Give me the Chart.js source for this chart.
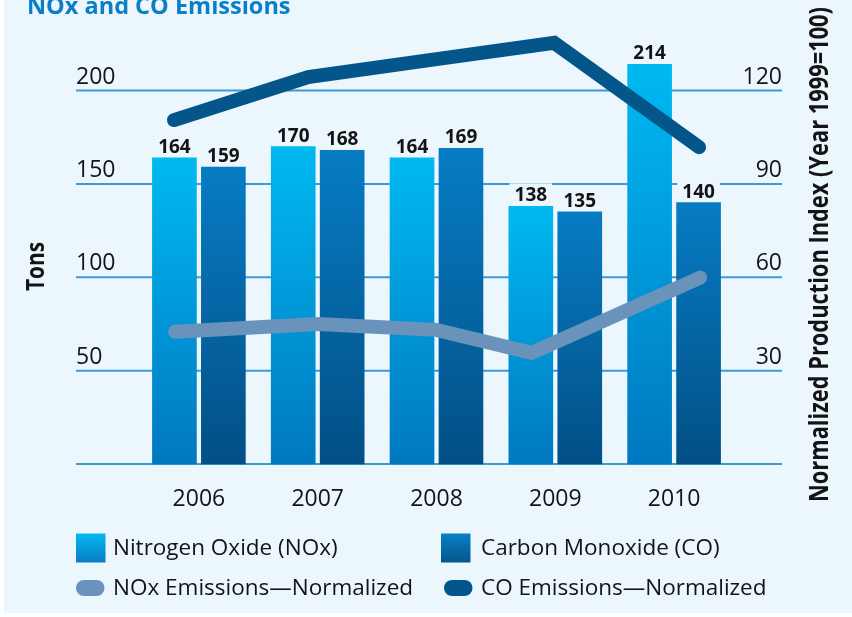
<!DOCTYPE html>
<html>
<head>
<meta charset="utf-8">
<title>NOx and CO Emissions</title>
<script src="https://cdn.jsdelivr.net/npm/chart.js@4.4.0/dist/chart.umd.min.js"></script>
<style>
  html, body { margin: 0; padding: 0; background: #fff; }
  canvas { display: block; }
</style>
</head>
<body>
<canvas id="chart" width="852" height="617" style="width:852px;height:617px"></canvas>
<script>
// values
const years = ['2006', '2007', '2008', '2009', '2010'];
const noxTons = [164, 170, 164, 138, 214];
const coTons = [159, 168, 169, 135, 140];
// normalized index lines (right axis); x is the slot position the point sits at
const noxNormX = [-0.2, 1.0, 2.0, 2.8, 4.22];
const noxNorm = [42.5, 45.0, 43.1, 35.7, 59.9];
const coNormX = [-0.21, 0.92, 2.0, 2.99, 4.21];
const coNorm = [110.5, 124.3, 130.1, 135.3, 101.8];
const tonTicks = [0, 50, 100, 150, 200];
const indexTicks = [0, 30, 60, 90, 120];

const panel = '#ecf6fd';
const gridColor = '#3d9ad6';
const ink = '#141414';
const sans = '"Open Sans", "Noto Sans", sans-serif';
const pairShift = 0.206; // half the distance between the two bars of a year, in year slots

function barFill(top, bottom) {
  return ctx => {
    const chart = ctx.chart;
    if (!chart.chartArea || ctx.type !== 'data') return top;
    const y = chart.scales.y;
    const g = chart.ctx.createLinearGradient(0, y.getPixelForValue(ctx.parsed.y), 0, y.getPixelForValue(0));
    g.addColorStop(0, top);
    g.addColorStop(1, bottom);
    return g;
  };
}

// rotated bold text squeezed to a given length
function sideTitle(c, text, x, y, size, len) {
  c.save();
  c.font = 'bold ' + size + 'px ' + sans;
  const w = c.measureText(text).width;
  c.translate(x, y);
  c.rotate(-Math.PI / 2);
  c.scale(len / w, 1);
  c.textAlign = 'center';
  c.textBaseline = 'alphabetic';
  c.fillText(text, 0, 0);
  c.restore();
}

const decor = {
  id: 'decor',
  beforeDraw(chart) {
    const c = chart.ctx;
    c.save();
    c.fillStyle = '#fff';
    c.fillRect(0, 0, chart.width, chart.height);
    c.fillStyle = panel;
    c.fillRect(4, 0, chart.width - 4, 613);
    c.restore();
  },
  beforeDatasetsDraw(chart) {
    const c = chart.ctx, y = chart.scales.y, y1 = chart.scales.y1;
    c.save();
    c.strokeStyle = gridColor;
    c.lineWidth = 2;
    y.ticks.forEach(t => {
      const py = y.getPixelForValue(t.value);
      c.beginPath(); c.moveTo(76, py); c.lineTo(782, py); c.stroke();
    });
    c.fillStyle = ink;
    c.font = '23px ' + sans;
    c.textBaseline = 'alphabetic';
    c.textAlign = 'left';
    y.ticks.forEach(t => { if (t.value) c.fillText(String(t.value), 76, y.getPixelForValue(t.value) - 7); });
    c.textAlign = 'right';
    y1.ticks.forEach(t => { if (t.value) c.fillText(String(t.value), 782, y1.getPixelForValue(t.value) - 7); });
    c.restore();
  },
  afterDatasetsDraw(chart) {
    const c = chart.ctx;
    c.save();
    c.font = 'bold 19px ' + sans;
    c.textAlign = 'center';
    c.textBaseline = 'alphabetic';
    [0, 1].forEach(i => {
      const meta = chart.getDatasetMeta(i);
      meta.data.forEach((bar, j) => {
        const txt = String(chart.data.datasets[i].data[j].y);
        const w = c.measureText(txt).width;
        const base = bar.y - 5;
        c.fillStyle = panel;
        c.fillRect(bar.x - w / 2 - 5, base - 18, w + 10, 21);
        c.fillStyle = ink;
        c.fillText(txt, bar.x, base);
      });
    });
    c.restore();
  },
  afterDraw(chart) {
    const c = chart.ctx;
    c.save();
    // title (cut at the top edge as in the source)
    c.fillStyle = '#0a7fc8';
    c.font = 'bold 23.5px ' + sans;
    c.textAlign = 'left';
    c.textBaseline = 'alphabetic';
    c.fillText('NOx and CO Emissions', 27, 14);

    // axis titles
    c.fillStyle = ink;
    sideTitle(c, 'Tons', 44, 266.5, 24.5, 49);
    sideTitle(c, 'Normalized Production Index (Year 1999=100)', 828, 254.5, 27.5, 495);

    // legend
    const ds = chart.data.datasets;
    const slots = [
      { i: 0, x: 76, y: 548, tx: 113 },
      { i: 1, x: 441, y: 548, tx: 481 },
      { i: 2, x: 76, y: 588, tx: 113 },
      { i: 3, x: 444, y: 588, tx: 481 }
    ];
    c.font = '22.5px ' + sans;
    c.textAlign = 'left';
    c.textBaseline = 'middle';
    slots.forEach(s => {
      const d = ds[s.i];
      if (d.type === 'bar') {
        const g = c.createLinearGradient(0, s.y - 14.5, 0, s.y + 14.5);
        g.addColorStop(0, d.swatch[0]);
        g.addColorStop(1, d.swatch[1]);
        c.fillStyle = g;
        c.fillRect(s.x, s.y - 14.5, 29.5, 29);
      } else {
        c.fillStyle = d.borderColor;
        c.beginPath();
        c.roundRect(s.x, s.y - 8, 28.5, 16, 8);
        c.fill();
      }
      c.fillStyle = ink;
      c.fillText(d.label, s.tx, s.y + 1);
    });
    c.restore();
  }
};

new Chart(document.getElementById('chart'), {
  type: 'bar',
  data: {
    labels: years,
    datasets: [
      {
        type: 'bar', label: 'Nitrogen Oxide (NOx)',
        data: noxTons.map((v, i) => ({ x: i - pairShift, y: v })),
        xAxisID: 'xl', yAxisID: 'y', grouped: false, barThickness: 44,
        backgroundColor: barFill('#00b9f1', '#0078c0'), swatch: ['#00b9f1', '#0a7cc4'],
        clip: false, order: 2
      },
      {
        type: 'bar', label: 'Carbon Monoxide (CO)',
        data: coTons.map((v, i) => ({ x: i + pairShift, y: v })),
        xAxisID: 'xl', yAxisID: 'y', grouped: false, barThickness: 44,
        backgroundColor: barFill('#077cc3', '#024f85'), swatch: ['#0a80c6', '#03568c'],
        clip: false, order: 2
      },
      {
        type: 'line', label: 'NOx Emissions\u2014Normalized',
        data: noxNormX.map((x, i) => ({ x, y: noxNorm[i] })),
        xAxisID: 'xl', yAxisID: 'y1',
        borderColor: '#6993bb', borderWidth: 14, borderCapStyle: 'round', borderJoinStyle: 'miter',
        pointRadius: 0, tension: 0, fill: false, clip: false, order: 1
      },
      {
        type: 'line', label: 'CO Emissions\u2014Normalized',
        data: coNormX.map((x, i) => ({ x, y: coNorm[i] })),
        xAxisID: 'xl', yAxisID: 'y1',
        borderColor: '#03558a', borderWidth: 14, borderCapStyle: 'round', borderJoinStyle: 'miter',
        pointRadius: 0, tension: 0, fill: false, clip: false, order: 1
      }
    ]
  },
  options: {
    responsive: false,
    animation: false,
    events: [],
    layout: { padding: { top: 90.5, left: 0, right: 0, bottom: 0 } },
    plugins: { legend: { display: false }, tooltip: { enabled: false }, title: { display: false } },
    scales: {
      x: {
        type: 'category', position: 'bottom', offset: true,
        grid: { display: false }, border: { display: false },
        ticks: { color: ink, font: { family: sans, size: 23 }, padding: 14 },
        afterFit: s => { s.height = 153; }
      },
      xl: {
        type: 'linear', position: 'bottom', display: false, offset: false, bounds: 'ticks',
        min: -0.5, max: 4.5, grace: 0
      },
      y: {
        position: 'left', min: 0, max: 200,
        grid: { display: false }, border: { display: false },
        ticks: { display: false },
        afterBuildTicks: s => { s.ticks = tonTicks.map(v => ({ value: v })); },
        afterFit: s => { s.width = 139.5; }
      },
      y1: {
        position: 'right', min: 0, max: 120,
        grid: { display: false }, border: { display: false },
        ticks: { display: false },
        afterBuildTicks: s => { s.ticks = indexTicks.map(v => ({ value: v })); },
        afterFit: s => { s.width = 118.5; }
      }
    }
  },
  plugins: [decor]
});
</script>
</body>
</html>
